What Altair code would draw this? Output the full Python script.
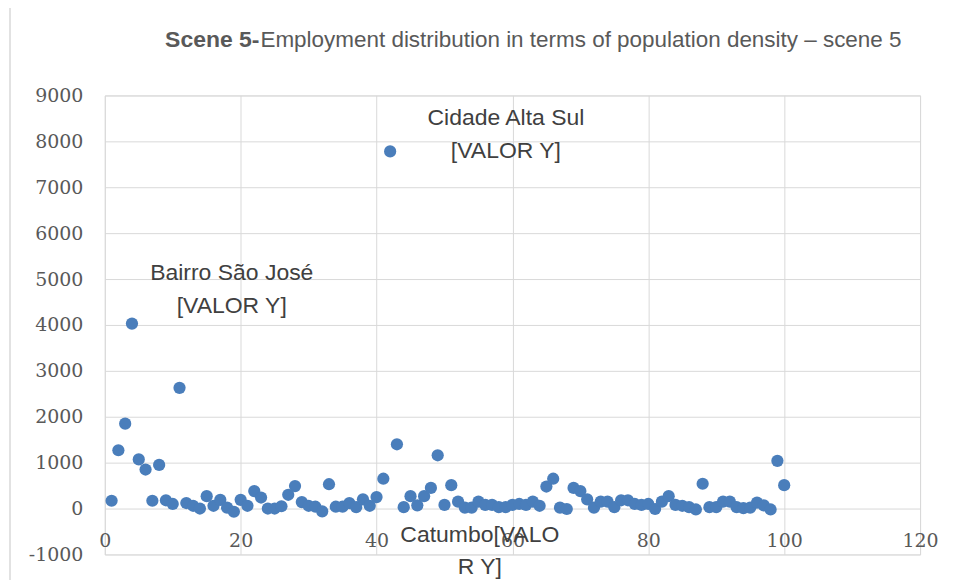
import altair as alt
import pandas as pd

# Data
x_vals = list(range(1, 101))
y_vals = [
    170, 1270, 1850, 4030, 1070, 850, 170, 950, 180, 100,
    2630, 120, 60, 0, 270, 60, 190, 20, -70, 190,
    60, 380, 240, 0, 0, 50, 300, 490, 140, 60,
    40, -60, 530, 40, 40, 120, 30, 200, 60, 250,
    650, 7780, 1400, 30, 270, 70, 270, 450, 1160, 80,
    510, 150, 20, 20, 150, 80, 80, 30, 30, 80,
    100, 80, 150, 60, 480, 650, 20, -10, 450, 380,
    200, 20, 150, 150, 30, 180, 180, 100, 80, 100,
    -10, 150, 270, 80, 60, 30, -20, 540, 30, 30,
    150, 150, 30, 10, 20, 130, 70, -20, 1040, 510,
]

label_x = [42, 4, 53]
label_y = [7780, 4030, 20]
label_text = [["Cidade Alta Sul", "[VALOR Y]"], ["Bairro São José", "[VALOR Y]"], ["Catumbo[VALO", "R Y]"]]
label_dx = [116, 100, 15]
label_dy = [-44, -62, 16]

x_ticks = [0, 20, 40, 60, 80, 100, 120]
y_ticks = [-1000, 0, 1000, 2000, 3000, 4000, 5000, 6000, 7000, 8000, 9000]

title_bold = "Scene 5-"
title_rest = "Employment distribution in terms of population density \u2013 scene 5"

df = pd.DataFrame({"x": x_vals, "y": y_vals})
lab = pd.DataFrame({"x": label_x, "y": label_y, "t": label_text})

W, H = 817, 460
GRID = "#d9d9d9"
TXT = "#595959"

xs = alt.Scale(domain=[0, 120], nice=False, zero=False)
ys = alt.Scale(domain=[-1000, 9000], nice=False, zero=False)

frame = alt.Chart(pd.DataFrame({"a": [0]})).mark_rect(
    fill=None, stroke=GRID, strokeWidth=1.5
).encode(
    x=alt.value(-95), x2=alt.value(900), y=alt.value(-89), y2=alt.value(530)
)

points = alt.Chart(df).mark_circle(size=150, opacity=1, color="#4a7ebb").encode(
    x=alt.X("x:Q", scale=xs, title=None,
            axis=alt.Axis(values=x_ticks, grid=True, gridColor=GRID, domain=False,
                          ticks=False, offset=-46, labelPadding=23, labelFontSize=19,
                          labelFont="DejaVu Serif", labelColor=TXT, labelFlush=False,
                          labelExpr="'' + datum.value")),
    y=alt.Y("y:Q", scale=ys, title=None,
            axis=alt.Axis(values=y_ticks, grid=True, gridColor=GRID, domain=False,
                          ticks=False, labelPadding=22, labelFontSize=19,
                          labelFont="DejaVu Serif", labelColor=TXT, labelFlush=False,
                          labelExpr="'' + datum.value")),
)

label_layers = []
for i in range(len(label_x)):
    sub = lab.iloc[[i]]
    label_layers.append(
        alt.Chart(sub).mark_text(
            font="Liberation Sans", fontSize=23, color="#404040", align="center",
            baseline="top", lineHeight=33, dx=label_dx[i], dy=label_dy[i],
        ).encode(x=alt.X("x:Q", scale=xs), y=alt.Y("y:Q", scale=ys), text="t:N")
    )

t1 = alt.Chart(pd.DataFrame({"t": [title_bold]})).mark_text(
    font="Liberation Sans", fontSize=23, fontWeight="bold", color=TXT,
    align="right", baseline="alphabetic",
).encode(x=alt.value(155), y=alt.value(-49), text="t:N")

t2 = alt.Chart(pd.DataFrame({"t": [title_rest]})).mark_text(
    font="Liberation Sans", fontSize=22.5, color=TXT,
    align="left", baseline="alphabetic",
).encode(x=alt.value(156), y=alt.value(-49), text="t:N")

chart = alt.layer(frame, points, *label_layers, t1, t2).properties(
    width=W, height=H,
    autosize=alt.AutoSizeParams(type="none"),
    padding={"left": 97, "top": 87, "right": 30, "bottom": 30},
).configure_view(stroke=GRID).configure(background="white")

chart.save("out.html", embed_options={"renderer": "svg", "actions": False})
